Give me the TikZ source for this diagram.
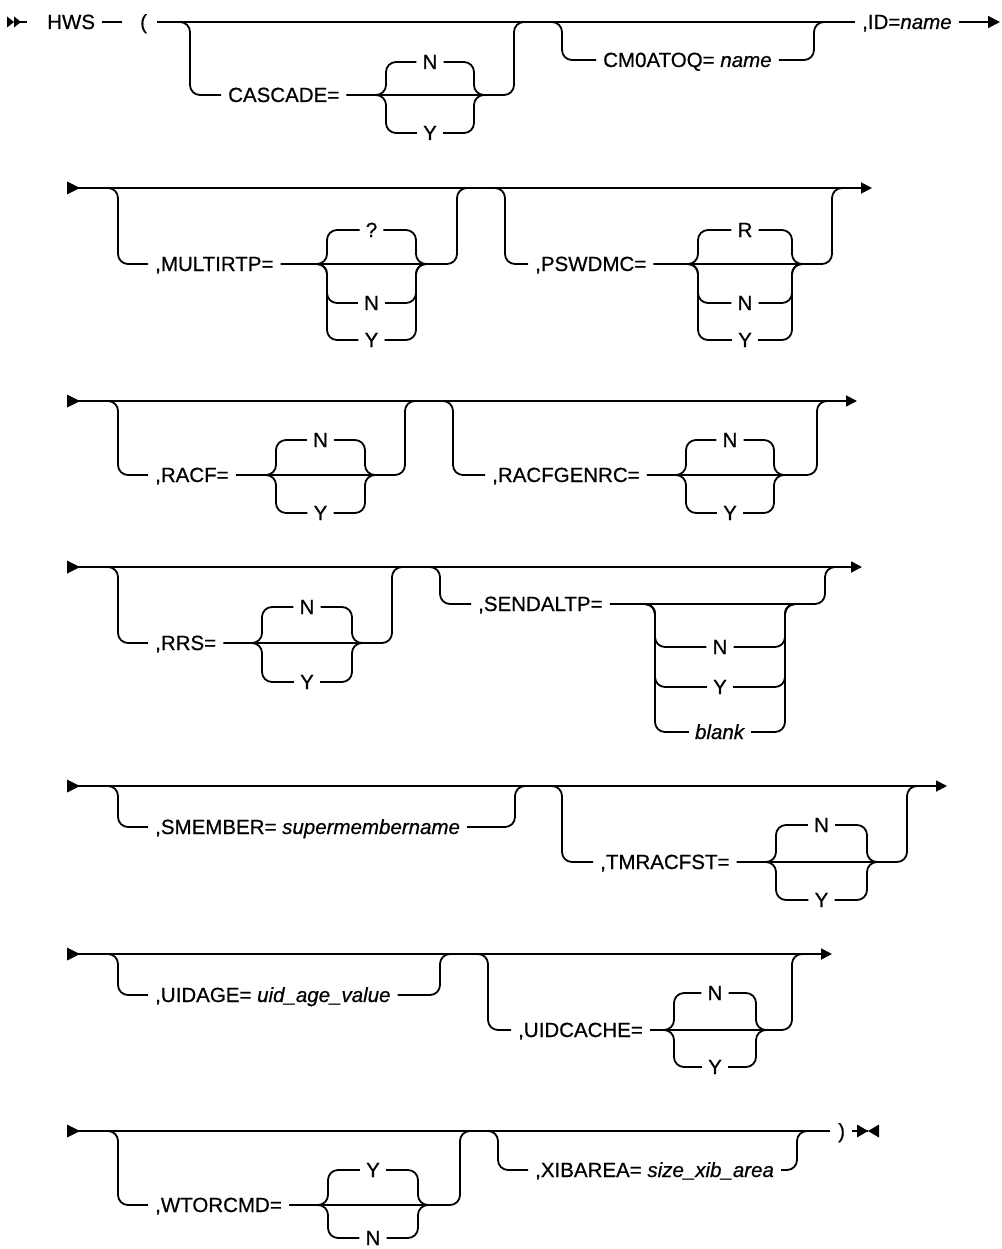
\documentclass[tikz,border=0pt]{standalone}
\usepackage{fontspec}
\setmainfont{Liberation Sans}[FakeBold=0.6]
\usetikzlibrary{arrows.meta}
\tikzset{
  rr/.style={draw, line width=1.8pt, rounded corners=10pt},
  lab/.style={anchor=west, inner xsep=7pt, inner ysep=0pt, text height=14pt, text depth=0pt, font=\fontsize{20.5}{24}\selectfont},
  opt/.style={inner xsep=6pt, inner ysep=0pt, text height=14pt, text depth=0pt, font=\fontsize{20.5}{24}\selectfont},
  endarrow/.style={-{Triangle[length=11pt,width=11pt]}},
}
% optional branch: xl, y0, y1, xr, name, text x, text
\newcommand\rrbranch[7]{%
  \node[lab] (#5) at (#6-7,#3) {#7\hspace{4pt}};
  \draw[rr] (#1-10,#2) -- (#1,#2) -- (#1,#3) -- (#5.west);
  \draw[rr] (#5.east) -- (#4,#3) -- (#4,#2) -- (#4+10,#2);
}
% choice option: left x, right x, ymid, yopt, name, text
\newcommand\rropt[6]{%
  \node[opt] (#5) at ({(#1+#2)/2},#4) {#6};
  \draw[rr] (#1-10,#3) -- (#1,#3) -- (#1,#4) -- (#5.west);
  \draw[rr] (#5.east) -- (#2,#4) -- (#2,#3) -- (#2+10,#3);
}
\newcommand\rrstart[1]{%
  \fill (67,#1-6.5) -- (80,#1) -- (67,#1+6.5) -- cycle;
}
\begin{document}
\begin{tikzpicture}[x=1pt,y=-1pt]
\useasboundingbox (0,0) rectangle (1001,1249);

% ---------- line 1 ----------
\fill (7,16.5) -- (14,22) -- (7,27.5) -- cycle;
\fill (14,16.5) -- (21,22) -- (14,27.5) -- cycle;
\coordinate (s1) at (20,22);
\coordinate (s1e) at (27,22);
\draw[rr] (s1) -- (s1e);
\node[lab] (hws) at (40,22) {HWS};
\node[lab,inner xsep=0pt] (lp) at (140,22) {(};
\draw[rr] (hws.east) -- ([xshift=-18pt]lp.west);
\node[lab] (id) at (855,22) {,ID=\textit{name}};
\draw[rr] ([xshift=10pt]lp.east) -- (id.west);
\coordinate (e1) at (1000,22);
\draw[rr,-{Triangle[length=12pt,width=12pt]}] (id.east) -- (e1);
\rrbranch{190}{22}{95}{514}{cascade}{228}{CASCADE=}
\rropt{386}{474}{95}{62}{c1n}{N}
\rropt{386}{474}{95}{133}{c1y}{Y}
\rrbranch{562}{22}{60}{814}{cmq}{603}{CM0ATOQ= \textit{name}}

% ---------- line 2 ----------
\rrstart{188}
\coordinate (s2) at (78,188);
\coordinate (e2) at (872,188);
\draw[rr,endarrow] (s2) -- (e2);
\rrbranch{118}{188}{264}{457}{multi}{155}{,MULTIRTP=}
\rropt{327}{416}{264}{230}{m1q}{?}
\rropt{327}{416}{264}{303}{m1n}{N}
\rropt{327}{416}{264}{340}{m1y}{Y}
\rrbranch{505}{188}{264}{832}{pswd}{535}{,PSWDMC=}
\rropt{698}{792}{264}{230}{p1r}{R}
\rropt{698}{792}{264}{303}{p1n}{N}
\rropt{698}{792}{264}{340}{p1y}{Y}

% ---------- line 3 ----------
\rrstart{401}
\coordinate (s3) at (78,401);
\coordinate (e3) at (857,401);
\draw[rr,endarrow] (s3) -- (e3);
\rrbranch{118}{401}{475}{405}{racf}{155}{,RACF=}
\rropt{276}{365}{475}{440}{r1n}{N}
\rropt{276}{365}{475}{513}{r1y}{Y}
\rrbranch{453}{401}{475}{817}{racfg}{492}{,RACFGENRC=}
\rropt{686}{774}{475}{440}{g1n}{N}
\rropt{686}{774}{475}{513}{g1y}{Y}

% ---------- line 4 ----------
\rrstart{567}
\coordinate (s4) at (78,567);
\coordinate (e4) at (862,567);
\draw[rr,endarrow] (s4) -- (e4);
\rrbranch{118}{567}{643}{392}{rrs}{155}{,RRS=}
\rropt{262}{352}{643}{607}{s1n}{N}
\rropt{262}{352}{643}{682}{s1y}{Y}
\rrbranch{440}{567}{604}{825}{send}{478}{,SENDALTP=}
\rropt{655}{785}{604}{647}{a1n}{N}
\rropt{655}{785}{604}{687}{a1y}{Y}
\rropt{655}{785}{604}{732}{a1b}{\textit{blank}}

% ---------- line 5 ----------
\rrstart{786}
\coordinate (s5) at (78,786);
\coordinate (e5) at (947,786);
\draw[rr,endarrow] (s5) -- (e5);
\rrbranch{118}{786}{827}{515}{smem}{155}{,SMEMBER= \textit{supermembername}}
\rrbranch{562}{786}{862}{907}{tmr}{600}{,TMRACFST=}
\rropt{776}{867}{862}{825}{t1n}{N}
\rropt{776}{867}{862}{900}{t1y}{Y}

% ---------- line 6 ----------
\rrstart{954}
\coordinate (s6) at (78,954);
\coordinate (e6) at (832,954);
\draw[rr,endarrow] (s6) -- (e6);
\rrbranch{118}{954}{995}{440}{uage}{155}{,UIDAGE= \textit{uid\_age\_value}}
\rrbranch{488}{954}{1030}{792}{ucache}{518}{,UIDCACHE=}
\rropt{674}{756}{1030}{993}{u1n}{N}
\rropt{674}{756}{1030}{1067}{u1y}{Y}

% ---------- line 7 ----------
\rrstart{1131}
\coordinate (s7) at (78,1131);
\node[lab,inner xsep=0pt] (rp) at (838,1131) {)};
\draw[rr] (s7) -- ([xshift=-8pt]rp.west);
\coordinate (e7) at (868,1131);
\draw[rr] ([xshift=7pt]rp.east) -- (e7);
\fill (857,1124.5) -- (868,1131) -- (857,1137.5) -- cycle;
\fill (879,1124.5) -- (868,1131) -- (879,1137.5) -- cycle;
\rrbranch{118}{1131}{1205}{460}{wtor}{155}{,WTORCMD=}
\rropt{328}{418}{1205}{1170}{w1y}{Y}
\rropt{328}{418}{1205}{1238}{w1n}{N}
\rrbranch{498}{1131}{1170}{797}{xib}{535}{,XIBAREA= \textit{size\_xib\_area}}
\end{tikzpicture}
\end{document}
